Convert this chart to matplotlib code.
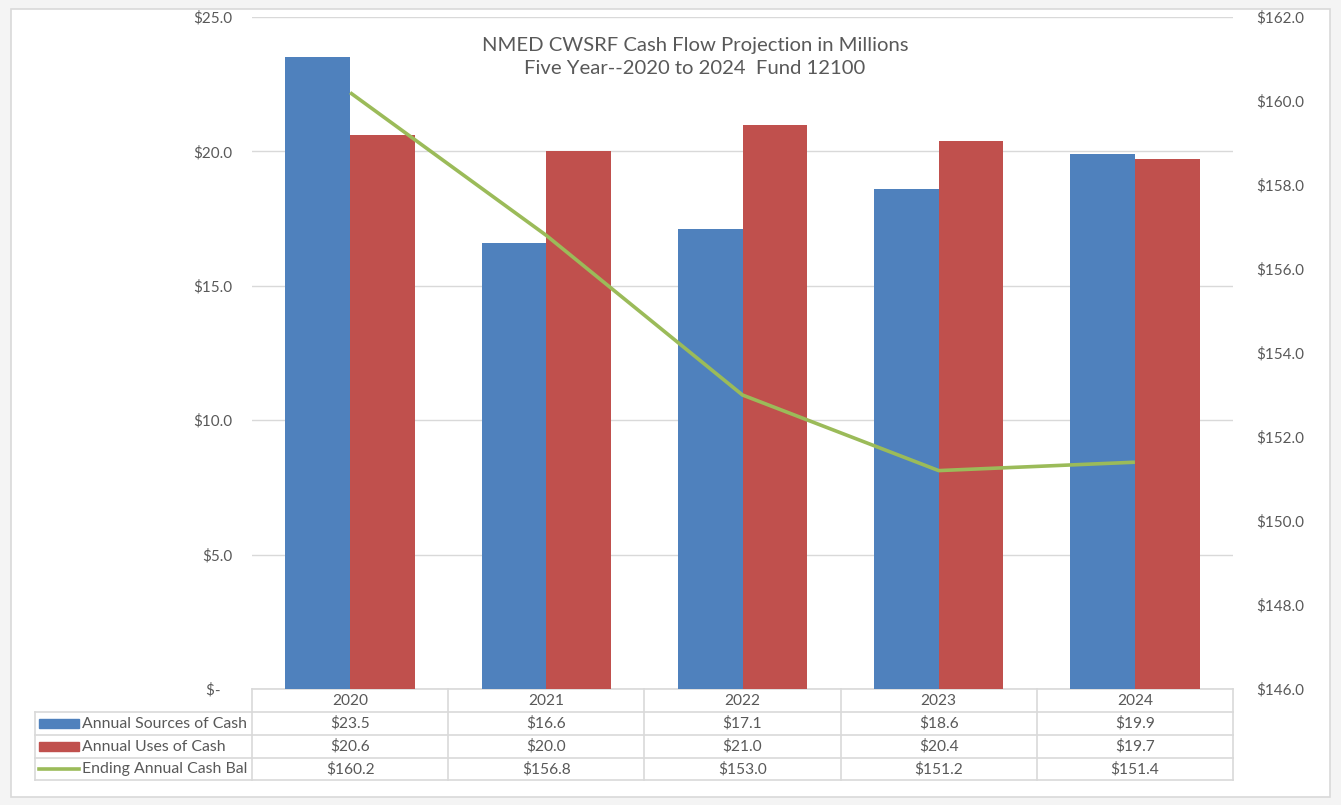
import matplotlib
matplotlib.use("Agg")
import matplotlib.pyplot as plt
import matplotlib.transforms as mtransforms
from matplotlib.patches import Rectangle
from matplotlib.lines import Line2D

years = ["2020", "2021", "2022", "2023", "2024"]
sources = [23.5, 16.6, 17.1, 18.6, 19.9]
uses = [20.6, 20.0, 21.0, 20.4, 19.7]
ending = [160.2, 156.8, 153.0, 151.2, 151.4]
series_names = ["Annual Sources of Cash", "Annual Uses of Cash", "Ending Annual Cash Bal"]
left_ticks = [0, 5, 10, 15, 20, 25]
left_labels = ["$-   ", "$5.0", "$10.0", "$15.0", "$20.0", "$25.0"]
right_ticks = [146, 148, 150, 152, 154, 156, 158, 160, 162]
title_lines = ["NMED CWSRF Cash Flow Projection in Millions", "Five Year--2020 to 2024  Fund 12100"]

BLUE = "#4f81bd"
RED = "#c0504d"
GREEN = "#9bbb59"
TXT = "#595959"
GRID = "#d9d9d9"
FONT = "Lato"
plt.rcParams['font.family'] = [FONT, 'DejaVu Sans']

W, H = 1341, 805
fig = plt.figure(figsize=(W / 100, H / 100), dpi=100)
fig.patch.set_facecolor("#f4f4f4")

# overlay axes in pixel coords
ov = fig.add_axes([0, 0, 1, 1], zorder=0)
ov.set_xlim(0, W)
ov.set_ylim(H, 0)
ov.axis("off")
ov.add_patch(Rectangle((11, 9), 1319, 788, facecolor="white", edgecolor=GRID, lw=1.2))

px0, px1, py0, py1 = 252, 1233, 17, 689
ax = fig.add_axes([px0 / W, (H - py1) / H, (px1 - px0) / W, (py1 - py0) / H], zorder=2)
ax.patch.set_alpha(0)
x = list(range(len(years)))
bw = 0.33
ax.bar([i - bw / 2 for i in x], sources, width=bw, color=BLUE, zorder=3)
ax.bar([i + bw / 2 for i in x], uses, width=bw, color=RED, zorder=3)
ax.set_xlim(-0.5, len(years) - 0.5)
ax.set_ylim(0, 25)
ax.set_yticks(left_ticks)
ax.set_yticklabels(left_labels)
ax.set_xticks([])
for s in ax.spines.values():
    s.set_visible(False)
ax.yaxis.grid(True, color=GRID, lw=1)
ax.set_axisbelow(True)
ax.tick_params(axis="y", length=0, pad=14.4, labelsize=11, labelcolor=TXT)

ax2 = ax.twinx()
ax2.plot(x, ending, color=GREEN, lw=2.6, zorder=4, solid_capstyle="butt")
ax2.set_ylim(146, 162)
ax2.set_yticks(right_ticks)
ax2.set_yticklabels(["$%.1f" % v for v in right_ticks])
for s in ax2.spines.values():
    s.set_visible(False)
ax2.tick_params(axis="y", length=0, pad=16.5, labelsize=11, labelcolor=TXT)
ax2.set_xticks([])

# title
ov.text(695, 45, title_lines[0], ha="center", va="center", fontsize=14.6, color=TXT)
ov.text(695, 68, title_lines[1], ha="center", va="center", fontsize=14.6, color=TXT)

# data table
tr = mtransforms.blended_transform_factory(ax.transData, ov.transData)
rows_y = [689, 712, 735, 758, 780]
n = len(years)
tl = 35
kw = dict(color=GRID, lw=1.2, transform=tr, clip_on=False)
ov.add_line(Line2D([-0.5, n - 0.5], [rows_y[0]] * 2, **kw))
for yy in rows_y[1:]:
    ov.add_line(Line2D([-0.5, n - 0.5], [yy, yy], **kw))
    ov.add_line(Line2D([tl, px0], [yy, yy], color=GRID, lw=1.2))
for i in range(n + 1):
    ov.add_line(Line2D([i - 0.5, i - 0.5], [rows_y[0], rows_y[-1]], **kw))
ov.add_line(Line2D([tl, tl], [rows_y[1], rows_y[-1]], color=GRID, lw=1.2))

tkw = dict(ha="center", va="center", fontsize=11.2, color=TXT, transform=tr)
for i, yr in enumerate(years):
    cy = (rows_y[0] + rows_y[1]) / 2
    ov.text(i, cy, yr, **tkw)
table_vals = [["$%.1f" % v for v in sources], ["$%.1f" % v for v in uses], ["$%.1f" % v for v in ending]]
colors = [BLUE, RED, GREEN]
for r in range(3):
    cy = (rows_y[r + 1] + rows_y[r + 2]) / 2
    for i in range(n):
        ov.text(i, cy, table_vals[r][i], **tkw)
    if r < 2:
        ov.add_patch(Rectangle((39, cy - 4.5), 40, 9, color=colors[r]))
    else:
        ov.add_line(Line2D([39, 79], [cy, cy], color=colors[r], lw=2.6))
    ov.text(82, cy, series_names[r], ha="left", va="center", fontsize=11.4, color=TXT)

fig.savefig("out.png", dpi=100, facecolor=fig.get_facecolor())
